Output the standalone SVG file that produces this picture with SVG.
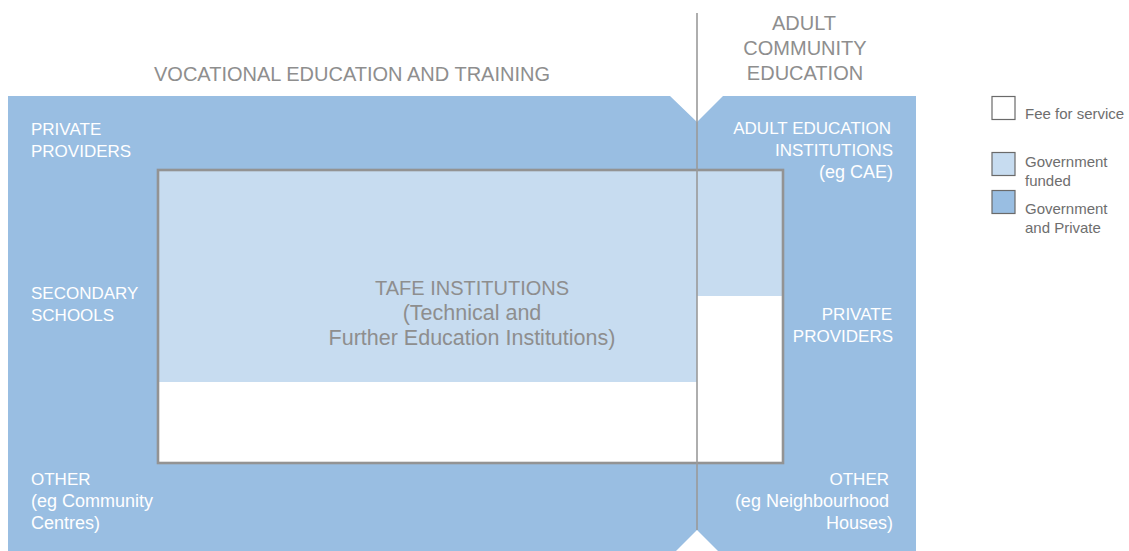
<svg xmlns="http://www.w3.org/2000/svg" width="1129" height="551" viewBox="0 0 1129 551">
  <style>
    .title { font-family: "Liberation Sans", Arial, sans-serif; font-size: 20px; fill: #8e8e8e; }
    .lbl { font-family: "Liberation Sans", Arial, sans-serif; font-size: 17px; fill: #ffffff; }
    .lbl.mixed { font-size: 18px; }
    .tafe { font-family: "Liberation Sans", Arial, sans-serif; font-size: 20px; fill: #8e8e8e; }
    .tafe.mixed { font-size: 21.5px; }
    .leg { font-family: "Liberation Sans", Arial, sans-serif; font-size: 15px; fill: #6e6e6e; }
    .swatch { stroke: #6a6a6a; stroke-width: 1.2; }
    .blue { fill: #99bee2; }
    .light { fill: #c7dcf0; }
    .white { fill: #ffffff; }
  </style>

  <rect width="1129" height="551" fill="#ffffff"/>

  <!-- sector background with notches on the divider -->
  <g id="sector-background">
    <path class="blue" d="M8,96 H670 L697,122 L723,96 H916 V551 H718 L697,530 L676,551 H8 Z"/>
  </g>

  <!-- TAFE block -->
  <g id="tafe">
    <rect x="158" y="170" width="625" height="293" fill="#ffffff"/>
    <rect class="light" x="158" y="170" width="539" height="212"/>
    <rect class="light" x="697" y="170" width="86" height="126"/>
    <rect x="158" y="170" width="625" height="293" fill="none" stroke="#939393" stroke-width="2.6"/>
    <text class="tafe" text-anchor="middle" x="472" y="295">TAFE INSTITUTIONS</text>
    <text class="tafe mixed" text-anchor="middle" x="472" y="320">(Technical and</text>
    <text class="tafe mixed" text-anchor="middle" x="472" y="345">Further Education Institutions)</text>
  </g>

  <!-- divider between the two sectors -->
  <g id="connectors">
    <line x1="697" y1="13" x2="697" y2="530" stroke="#9a9a9a" stroke-width="1.6"/>
  </g>

  <!-- sector headings -->
  <g id="vet-heading">
    <text class="title" text-anchor="middle" x="352" y="81">VOCATIONAL EDUCATION AND TRAINING</text>
  </g>
  <g id="ace-heading">
    <text class="title" text-anchor="middle" x="804" y="30">ADULT</text>
    <text class="title" text-anchor="middle" x="805" y="55">COMMUNITY</text>
    <text class="title" text-anchor="middle" x="805" y="80">EDUCATION</text>
  </g>

  <!-- VET providers -->
  <g id="vet-private">
    <text class="lbl" x="31" y="135">PRIVATE</text>
    <text class="lbl" x="31" y="157">PROVIDERS</text>
  </g>
  <g id="vet-secondary">
    <text class="lbl" x="31" y="299">SECONDARY</text>
    <text class="lbl" x="31" y="321">SCHOOLS</text>
  </g>
  <g id="vet-other">
    <text class="lbl" x="31" y="485">OTHER</text>
    <text class="lbl mixed" x="31" y="507">(eg Community</text>
    <text class="lbl mixed" x="31" y="529">Centres)</text>
  </g>

  <!-- ACE providers -->
  <g id="ace-institutions">
    <text class="lbl" text-anchor="end" x="891" y="134">ADULT EDUCATION</text>
    <text class="lbl" text-anchor="end" x="893" y="156">INSTITUTIONS</text>
    <text class="lbl mixed" text-anchor="end" x="893" y="178">(eg CAE)</text>
  </g>
  <g id="ace-private">
    <text class="lbl" text-anchor="end" x="892" y="320">PRIVATE</text>
    <text class="lbl" text-anchor="end" x="893" y="342">PROVIDERS</text>
  </g>
  <g id="ace-other">
    <text class="lbl" text-anchor="end" x="889" y="485">OTHER</text>
    <text class="lbl mixed" text-anchor="end" x="889" y="507">(eg Neighbourhood</text>
    <text class="lbl mixed" text-anchor="end" x="893" y="529">Houses)</text>
  </g>

  <!-- legend -->
  <g id="legend">
    <rect class="swatch white" x="992" y="96.5" width="23" height="23"/>
    <text class="leg" x="1025" y="119">Fee for service</text>
    <rect class="swatch light" x="992" y="152.5" width="23" height="23"/>
    <text class="leg" x="1025" y="167">Government</text>
    <text class="leg" x="1025" y="186">funded</text>
    <rect class="swatch blue" x="992" y="190.5" width="23" height="23"/>
    <text class="leg" x="1025" y="214">Government</text>
    <text class="leg" x="1025" y="233">and Private</text>
  </g>
</svg>
